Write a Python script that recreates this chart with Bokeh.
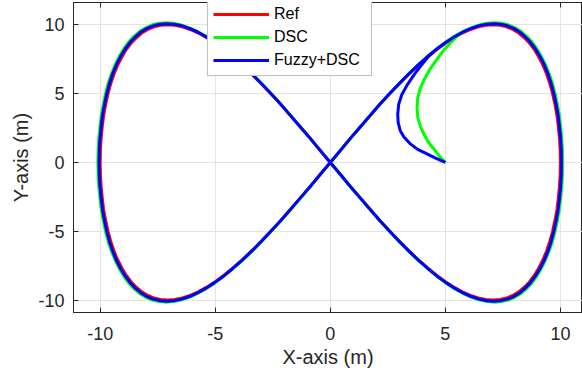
from bokeh.plotting import figure
from bokeh.models import Range1d, FixedTicker, LinearAxis, Legend, LegendItem, CustomLabelingPolicy
from bokeh.embed import file_html
from bokeh.resources import INLINE

# ---- data ----
ref_x = [0, 0.44, 0.87, 1.31, 1.74, 2.16, 2.59, 3.01, 3.42, 3.83, 4.23, 4.62, 5.0, 5.37, 5.74, 6.09, 6.43, 6.76, 7.07, 7.37, 7.66, 7.93, 8.19, 8.43, 8.66, 8.87, 9.06, 9.24, 9.40, 9.54, 9.66, 9.76, 9.85, 9.91, 9.96, 9.99, 10.0,
         9.99, 9.96, 9.91, 9.85, 9.76, 9.66, 9.54, 9.40, 9.24, 9.06, 8.87, 8.66, 8.43, 8.19, 7.93, 7.66, 7.37, 7.07, 6.76, 6.43, 6.09, 5.74, 5.37, 5.0, 4.62, 4.23, 3.83, 3.42, 3.01, 2.59, 2.16, 1.74, 1.31, 0.87, 0.44, 0,
         -0.44, -0.87, -1.31, -1.74, -2.16, -2.59, -3.01, -3.42, -3.83, -4.23, -4.62, -5.0, -5.37, -5.74, -6.09, -6.43, -6.76, -7.07, -7.37, -7.66, -7.93, -8.19, -8.43, -8.66, -8.87, -9.06, -9.24, -9.40, -9.54, -9.66, -9.76, -9.85, -9.91, -9.96, -9.99, -10.0,
         -9.99, -9.96, -9.91, -9.85, -9.76, -9.66, -9.54, -9.40, -9.24, -9.06, -8.87, -8.66, -8.43, -8.19, -7.93, -7.66, -7.37, -7.07, -6.76, -6.43, -6.09, -5.74, -5.37, -5.0, -4.62, -4.23, -3.83, -3.42, -3.01, -2.59, -2.16, -1.74, -1.31, -0.87, -0.44, 0]
ref_y = [0, 0.87, 1.74, 2.59, 3.42, 4.23, 5.0, 5.74, 6.43, 7.07, 7.66, 8.19, 8.66, 9.06, 9.40, 9.66, 9.85, 9.96, 10.0, 9.96, 9.85, 9.66, 9.40, 9.06, 8.66, 8.19, 7.66, 7.07, 6.43, 5.74, 5.0, 4.23, 3.42, 2.59, 1.74, 0.87, 0,
         -0.87, -1.74, -2.59, -3.42, -4.23, -5.0, -5.74, -6.43, -7.07, -7.66, -8.19, -8.66, -9.06, -9.40, -9.66, -9.85, -9.96, -10.0, -9.96, -9.85, -9.66, -9.40, -9.06, -8.66, -8.19, -7.66, -7.07, -6.43, -5.74, -5.0, -4.23, -3.42, -2.59, -1.74, -0.87, 0,
         0.87, 1.74, 2.59, 3.42, 4.23, 5.0, 5.74, 6.43, 7.07, 7.66, 8.19, 8.66, 9.06, 9.40, 9.66, 9.85, 9.96, 10.0, 9.96, 9.85, 9.66, 9.40, 9.06, 8.66, 8.19, 7.66, 7.07, 6.43, 5.74, 5.0, 4.23, 3.42, 2.59, 1.74, 0.87, 0,
         -0.87, -1.74, -2.59, -3.42, -4.23, -5.0, -5.74, -6.43, -7.07, -7.66, -8.19, -8.66, -9.06, -9.40, -9.66, -9.85, -9.96, -10.0, -9.96, -9.85, -9.66, -9.40, -9.06, -8.66, -8.19, -7.66, -7.07, -6.43, -5.74, -5.0, -4.23, -3.42, -2.59, -1.74, -0.87, 0]

dsc_x = [5.0, 4.75, 4.5, 4.25, 4.06, 3.9, 3.8, 3.77, 3.8, 3.9, 4.06, 4.3, 4.64, 4.95, 5.3, 5.55, 5.85, 6.15,
         6.49, 6.83, 7.14, 7.44, 7.74, 8.01, 8.27, 8.51, 8.75, 8.96, 9.15, 9.33, 9.49, 9.64, 9.76, 9.86, 9.95, 10.01, 10.06, 10.09, 10.10,
         10.09, 10.06, 10.01, 9.95, 9.86, 9.76, 9.64, 9.49, 9.33, 9.15, 8.96, 8.75, 8.51, 8.27, 8.01, 7.74, 7.44, 7.14, 6.83, 6.49, 6.15, 5.80, 5.42, 5.05, 4.67, 4.27, 3.87, 3.45, 3.04, 2.62, 2.18, 1.76, 1.32, 0.88, 0.44, 0,
         -0.44, -0.88, -1.32, -1.76, -2.18, -2.62, -3.04, -3.45, -3.87, -4.27, -4.67, -5.05, -5.42, -5.80, -6.15, -6.49, -6.83, -7.14, -7.44, -7.74, -8.01, -8.27, -8.51, -8.75, -8.96, -9.15, -9.33, -9.49, -9.64, -9.76, -9.86, -9.95, -10.01, -10.06, -10.09, -10.10,
         -10.09, -10.06, -10.01, -9.95, -9.86, -9.76, -9.64, -9.49, -9.33, -9.15, -8.96, -8.75, -8.51, -8.27, -8.01, -7.74, -7.44, -7.14, -6.83, -6.49, -6.15, -5.80, -5.42, -5.05, -4.67, -4.27, -3.87, -3.45, -3.04, -2.62, -2.18, -1.76, -1.32, -0.88, -0.44, 0,
         0.44, 0.88, 1.32, 1.76, 2.18, 2.62, 3.04, 3.45, 3.87, 4.27, 4.67, 5.05, 5.42, 5.80, 6.15, 6.49, 6.83, 7.14]
dsc_y = [0, 0.45, 0.98, 1.5, 2.07, 2.7, 3.28, 4.0, 4.7, 5.35, 5.95, 6.7, 7.5, 8.2, 8.8, 9.25, 9.55, 9.80,
         10.0, 10.11, 10.15, 10.11, 10.0, 9.80, 9.54, 9.20, 8.79, 8.31, 7.77, 7.18, 6.53, 5.83, 5.08, 4.29, 3.47, 2.63, 1.77, 0.88, 0,
         -0.88, -1.77, -2.63, -3.47, -4.29, -5.08, -5.83, -6.53, -7.18, -7.77, -8.31, -8.79, -9.20, -9.54, -9.80, -10.0, -10.11, -10.15, -10.11, -10.0, -9.80, -9.54, -9.20, -8.79, -8.31, -7.77, -7.18, -6.53, -5.83, -5.08, -4.29, -3.47, -2.63, -1.77, -0.88, 0,
         0.88, 1.77, 2.63, 3.47, 4.29, 5.08, 5.83, 6.53, 7.18, 7.77, 8.31, 8.79, 9.20, 9.54, 9.80, 10.0, 10.11, 10.15, 10.11, 10.0, 9.80, 9.54, 9.20, 8.79, 8.31, 7.77, 7.18, 6.53, 5.83, 5.08, 4.29, 3.47, 2.63, 1.77, 0.88, 0,
         -0.88, -1.77, -2.63, -3.47, -4.29, -5.08, -5.83, -6.53, -7.18, -7.77, -8.31, -8.79, -9.20, -9.54, -9.80, -10.0, -10.11, -10.15, -10.11, -10.0, -9.80, -9.54, -9.20, -8.79, -8.31, -7.77, -7.18, -6.53, -5.83, -5.08, -4.29, -3.47, -2.63, -1.77, -0.88, 0,
         0.88, 1.77, 2.63, 3.47, 4.29, 5.08, 5.83, 6.53, 7.18, 7.77, 8.31, 8.79, 9.20, 9.54, 9.80, 10.0, 10.11, 10.15]

fz_x = [5.0, 4.6, 4.2, 3.8, 3.48, 3.2, 3.04, 2.95, 2.93, 2.97, 3.1, 3.33, 3.65, 3.95, 4.25,
        4.64, 5.03, 5.40, 5.77, 6.12, 6.46, 6.79, 7.11, 7.41, 7.70, 7.97, 8.23, 8.47, 8.70, 8.91, 9.11, 9.29, 9.45, 9.59, 9.71, 9.81, 9.90, 9.96, 10.01, 10.04, 10.05,
        10.04, 10.01, 9.96, 9.90, 9.81, 9.71, 9.59, 9.45, 9.29, 9.11, 8.91, 8.70, 8.47, 8.23, 7.97, 7.70, 7.41, 7.11, 6.79, 6.46, 6.12, 5.77, 5.40, 5.03, 4.64, 4.25, 3.85, 3.44, 3.03, 2.60, 2.17, 1.75, 1.32, 0.87, 0.44, 0,
        -0.44, -0.87, -1.32, -1.75, -2.17, -2.60, -3.03, -3.44, -3.85, -4.25, -4.64, -5.03, -5.40, -5.77, -6.12, -6.46, -6.79, -7.11, -7.41, -7.70, -7.97, -8.23, -8.47, -8.70, -8.91, -9.11, -9.29, -9.45, -9.59, -9.71, -9.81, -9.90, -9.96, -10.01, -10.04, -10.05,
        -10.04, -10.01, -9.96, -9.90, -9.81, -9.71, -9.59, -9.45, -9.29, -9.11, -8.91, -8.70, -8.47, -8.23, -7.97, -7.70, -7.41, -7.11, -6.79, -6.46, -6.12, -5.77, -5.40, -5.03, -4.64, -4.25, -3.85, -3.44, -3.03, -2.60, -2.17, -1.75, -1.32, -0.87, -0.44, 0,
        0.44, 0.87, 1.32, 1.75, 2.17, 2.60, 3.03, 3.44, 3.85, 4.25, 4.64, 5.03, 5.40, 5.77, 6.12, 6.46, 6.79, 7.11]
fz_y = [0, 0.3, 0.62, 0.95, 1.35, 1.85, 2.31, 2.9, 3.5, 4.2, 4.9, 5.6, 6.4, 7.05, 7.68,
        8.26, 8.73, 9.13, 9.48, 9.74, 9.93, 10.04, 10.08, 10.04, 9.93, 9.74, 9.48, 9.13, 8.73, 8.26, 7.72, 7.13, 6.48, 5.79, 5.04, 4.26, 3.45, 2.61, 1.75, 0.88, 0,
        -0.88, -1.75, -2.61, -3.45, -4.26, -5.04, -5.79, -6.48, -7.13, -7.72, -8.26, -8.73, -9.13, -9.48, -9.74, -9.93, -10.04, -10.08, -10.04, -9.93, -9.74, -9.48, -9.13, -8.73, -8.26, -7.72, -7.13, -6.48, -5.79, -5.04, -4.26, -3.45, -2.61, -1.75, -0.88, 0,
        0.88, 1.75, 2.61, 3.45, 4.26, 5.04, 5.79, 6.48, 7.13, 7.72, 8.26, 8.73, 9.13, 9.48, 9.74, 9.93, 10.04, 10.08, 10.04, 9.93, 9.74, 9.48, 9.13, 8.73, 8.26, 7.72, 7.13, 6.48, 5.79, 5.04, 4.26, 3.45, 2.61, 1.75, 0.88, 0,
        -0.88, -1.75, -2.61, -3.45, -4.26, -5.04, -5.79, -6.48, -7.13, -7.72, -8.26, -8.73, -9.13, -9.48, -9.74, -9.93, -10.04, -10.08, -10.04, -9.93, -9.74, -9.48, -9.13, -8.73, -8.26, -7.72, -7.13, -6.48, -5.79, -5.04, -4.26, -3.45, -2.61, -1.75, -0.88, 0,
        0.88, 1.75, 2.61, 3.45, 4.26, 5.04, 5.79, 6.48, 7.13, 7.72, 8.26, 8.73, 9.13, 9.48, 9.74, 9.93, 10.04, 10.08]

series_names = ["Ref", "DSC", "Fuzzy+DSC"]
series_colors = ["#ff0000", "#00ff00", "#0000ff"]
ticks = [-10, -5, 0, 5, 10]
tick_labels = ["-10", "-5", "0", "5", "10"]
x_label = "X-axis (m)"
y_label = "Y-axis (m)"

FONT = "Liberation Sans"
TXT = "#262626"

p = figure(width=582, height=375, output_backend="svg", toolbar_location=None,
           x_range=Range1d(-11.16, 10.96), y_range=Range1d(-10.9, 11.62),
           min_border_left=73, min_border_right=0, min_border_top=2, min_border_bottom=63)
p.background_fill_color = "white"
p.border_fill_color = "white"
p.outline_line_color = TXT
p.outline_line_width = 1

overrides = {t: s for t, s in zip(ticks, tick_labels)}
for ax in (p.xaxis[0], p.yaxis[0]):
    ax.ticker = FixedTicker(ticks=ticks)
    ax.major_label_overrides = overrides
    ax.minor_tick_line_color = None
    ax.major_tick_in = 5
    ax.major_tick_out = 0
    ax.axis_line_color = TXT
    ax.major_tick_line_color = TXT
    ax.major_label_text_font = FONT
    ax.major_label_text_font_size = "18px"
    ax.major_label_text_color = TXT
    ax.axis_label_text_font = FONT
    ax.axis_label_text_font_size = "20px"
    ax.axis_label_text_font_style = "normal"
    ax.axis_label_text_color = TXT

p.xaxis.axis_label = x_label
p.yaxis.axis_label = y_label
p.xaxis.major_label_standoff = 14
p.xaxis.axis_label_standoff = 3
p.yaxis.major_label_standoff = 9
p.yaxis.axis_label_standoff = 3

# top spine ticks only (no labels)
top = LinearAxis(ticker=FixedTicker(ticks=ticks), major_label_text_font_size="0px",
                 major_label_policy=CustomLabelingPolicy(code="for (const i of Array.from(indices)) { indices.unset(i) }\nreturn indices"),
                 major_label_standoff=0, major_tick_in=5, major_tick_out=0,
                 minor_tick_line_color=None, axis_line_color=TXT, major_tick_line_color=TXT)
p.add_layout(top, "above")

p.grid.grid_line_color = "#e3e3e3"
p.grid.grid_line_width = 1

r1 = p.line(ref_x, ref_y, line_color=series_colors[0], line_width=3, line_join="round")
r2 = p.line(dsc_x, dsc_y, line_color=series_colors[1], line_width=3, line_join="round")
r3 = p.line(fz_x, fz_y, line_color=series_colors[2], line_width=3, line_join="round")

legend = Legend(items=[LegendItem(label=series_names[0], renderers=[r1]),
                       LegendItem(label=series_names[1], renderers=[r2]),
                       LegendItem(label=series_names[2], renderers=[r3])],
                location=(134, 236), padding=5, spacing=3, margin=0,
                glyph_width=56, glyph_height=20, label_standoff=5, label_width=92,
                label_text_font=FONT, label_text_font_size="16px", label_text_color="#000000",
                border_line_color="#7f7f7f", border_line_width=1,
                background_fill_color="white", background_fill_alpha=1.0)
p.add_layout(legend)

open("out.html", "w").write(file_html(p, INLINE))
